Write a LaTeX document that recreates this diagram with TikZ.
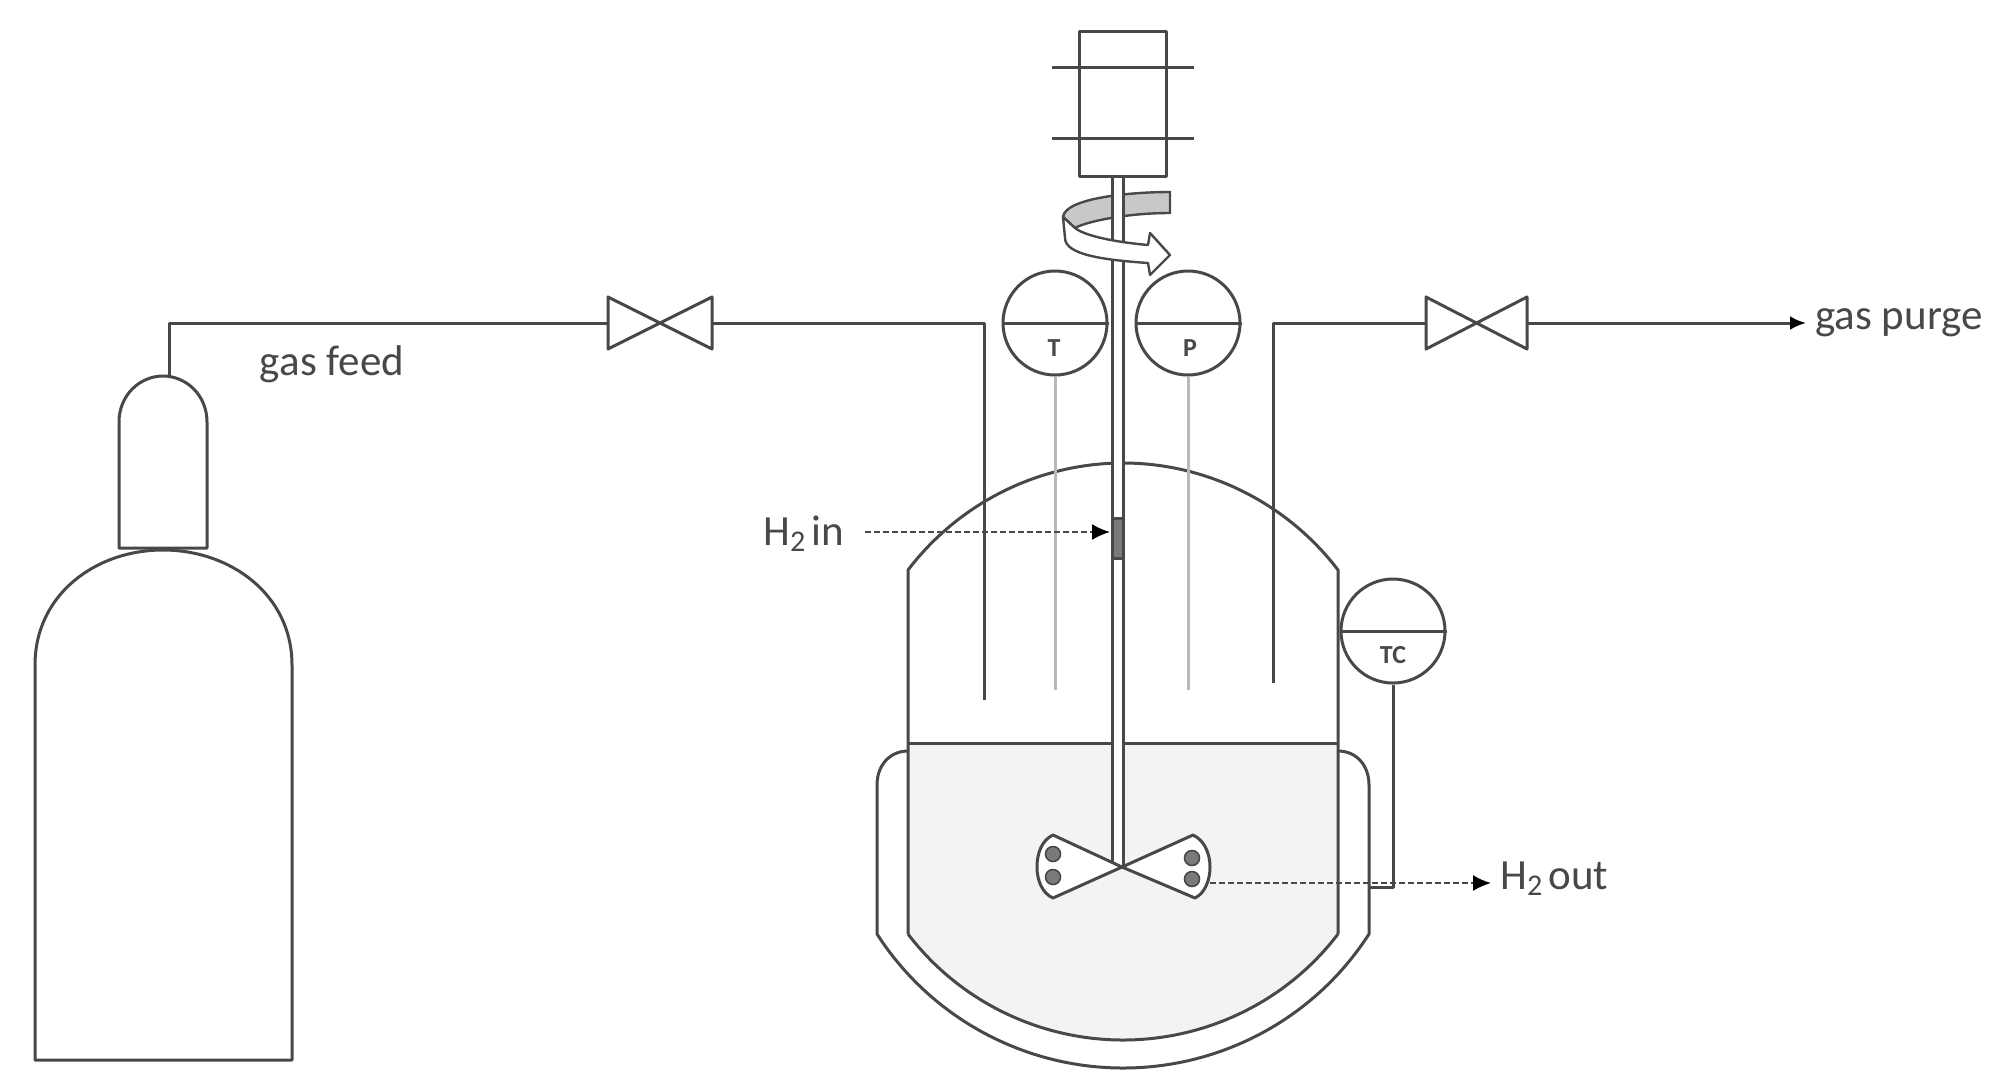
\documentclass[tikz,border=0pt]{standalone}
\usepackage{fontspec}
\setmainfont{Carlito}
\usepackage{tikz}
\usetikzlibrary{arrows.meta,calc}
\definecolor{linegray}{HTML}{484848}
\definecolor{stemgray}{HTML}{B8B8B8}
\definecolor{liquidgray}{HTML}{F3F3F3}
\definecolor{bandgray}{HTML}{C8C8C8}
\definecolor{dotgray}{HTML}{7A7A7A}
\tikzset{
    part/.style={draw=linegray,line width=1.5pt,line join=round},
    gauge/.style={circle,part,fill=white,minimum size=52pt,inner sep=0pt},
    gaugetext/.style={font=\fontsize{13}{15}\selectfont\bfseries,text=linegray,inner sep=0pt},
    stem/.style={draw=stemgray,line width=1.5pt},
    label/.style={font=\fontsize{21.5}{25}\selectfont,text=linegray,inner sep=0pt},
    flow/.style={draw=linegray,line width=1pt,dash pattern=on 3pt off 1.5pt,-{Latex[length=9pt,width=8pt,black]}},
    vanedot/.style={circle,draw=linegray,line width=0.8pt,fill=dotgray,minimum size=7.5pt,inner sep=0pt}
}
\begin{document}
\begin{tikzpicture}[x=0.5pt,y=-0.5pt]
    \useasboundingbox (0,0) rectangle (2006,1089);

    \fill[liquidgray] (908,743) -- (908,934) .. controls (959,1001) and (1039,1040) .. (1123,1040)
        .. controls (1207,1040) and (1287,1001) .. (1338,934) -- (1338,743) -- cycle;

    \draw[part] (119,548) -- (119,422) .. controls (119,395) and (140,376) .. (163,376)
        .. controls (186,376) and (207,395) .. (207,422) -- (207,548) -- cycle;
    \draw[part] (35,1060) -- (35,665) .. controls (35,595) and (95,550) .. (163,550)
        .. controls (231,550) and (292,595) .. (292,665) -- (292,1060) -- cycle;

    \draw[part] (908,934) -- (908,570) .. controls (959,503) and (1039,463) .. (1123,463)
        .. controls (1207,463) and (1287,503) .. (1338,570) -- (1338,934);
    \draw[part] (908,934) .. controls (959,1001) and (1039,1040) .. (1123,1040)
        .. controls (1207,1040) and (1287,1001) .. (1338,934);
    \draw[part] (908,743) -- (1338,743);
    \draw[part] (908,751) .. controls (890,751) and (877,765) .. (877,785) -- (877,934)
        .. controls (931,1018) and (1024,1068) .. (1123,1068)
        .. controls (1222,1068) and (1315,1018) .. (1369,934) -- (1369,785)
        .. controls (1369,765) and (1356,751) .. (1338,751);

    \coordinate (feedtop) at (169,376);
    \coordinate (feedleft) at (608,323);
    \coordinate (feedright) at (712,323);
    \coordinate (feedend) at (984,700);
    \coordinate (purgestart) at (1273,683);
    \coordinate (purgeleft) at (1426,323);
    \coordinate (purgeright) at (1527,323);
    \coordinate (purgeend) at (1806,323);

    \draw[part] (feedtop) |- (feedleft);
    \draw[part] (feedright) -| (feedend);
    \draw[part] (purgestart) |- (purgeleft);
    \draw[part,-{Latex[length=8pt,width=7pt,black]}] (purgeright) -- (purgeend);

    \foreach \vleft/\vright in {feedleft/feedright,purgeleft/purgeright}{
        \draw[part] ($(\vleft)+(0,-26)$) -- ($(\vright)+(0,26)$) -- ($(\vright)+(0,-26)$) -- ($(\vleft)+(0,26)$) -- cycle;
    }

    \fill[bandgray,draw=linegray,line width=1.2pt] (1170,192) .. controls (1130,192) and (1065,198) .. (1063,217)
        -- (1075,228) .. controls (1085,222) and (1125,213) .. (1170,213) -- cycle;

    \draw[part,fill=white] (1112,176) rectangle (1123,867);
    \draw[part,fill=dotgray] (1112,518) rectangle (1123,558);

    \draw[part,fill=white,line width=1.2pt] (1063,217) -- (1075,228) .. controls (1085,236) and (1115,242) .. (1148,245)
        -- (1150,233) -- (1170,255) -- (1150,275) -- (1148,263)
        .. controls (1105,260) and (1065,255) .. (1065,238) -- cycle;

    \draw[part,fill=white] (1079,31) rectangle (1166,176);
    \draw[part] (1052,67) -- (1194,67);
    \draw[part] (1052,138) -- (1194,138);

    \node[gauge] (tempgauge) at (1055,323) {};
    \node[gauge] (presgauge) at (1188,323) {};
    \node[gauge] (tcgauge) at (1393,631) {};
    \foreach \g in {tempgauge,presgauge,tcgauge}{
        \draw[part] (\g.west) -- (\g.east);
    }
    \node[gaugetext] (templabel) at (1054,348) {T};
    \node[gaugetext] (preslabel) at (1190,348) {P};
    \node[gaugetext] (tclabel) at (1393,655) {TC};

    \coordinate (tempend) at (1055,690);
    \coordinate (presend) at (1188,690);
    \draw[stem] (tempgauge.south) -- (tempend);
    \draw[stem] (presgauge.south) -- (presend);

    \coordinate (tcturn) at (1393,887);
    \coordinate (tcend) at (1369,887);
    \draw[part] (tcgauge.south) -- (tcturn) -- (tcend);

    \draw[part,fill=white] (1122,867) -- (1053,835) .. controls (1042,840) and (1037,853) .. (1037,867)
        .. controls (1037,880) and (1042,893) .. (1053,898) -- (1122,867)
        -- (1193,835) .. controls (1204,840) and (1210,853) .. (1210,867)
        .. controls (1210,880) and (1205,893) .. (1195,898) -- cycle;
    \node[vanedot] (dotA) at (1053,854) {};
    \node[vanedot] (dotB) at (1053,877) {};
    \node[vanedot] (dotC) at (1192,858) {};
    \node[vanedot] (dotD) at (1192,879) {};

    \node[label] (feedlabel) at (332,364) {gas feed};
    \node[label,anchor=west] (purgelabel) at (1815,323) {gas purge};
    \node[label,anchor=west] (inlabel) at (763,534) {H\textsubscript{2}\hspace{0.12em}in};
    \node[label,anchor=west] (outlabel) at (1500,879) {H\textsubscript{2}\hspace{0.12em}out};

    \coordinate (instart) at (865,532);
    \coordinate (intip) at (1110,532);
    \coordinate (outstart) at (1210,883);
    \coordinate (outtip) at (1491,883);
    \draw[flow] (instart) -- (intip);
    \draw[flow] (outstart) -- (outtip);
\end{tikzpicture}
\end{document}
